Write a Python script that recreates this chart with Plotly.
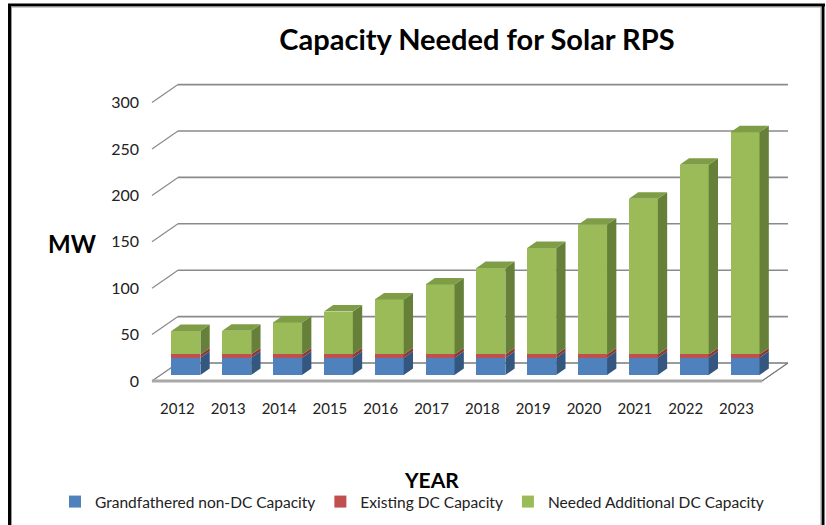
import plotly.graph_objects as go

# ---------------- data ----------------
years = ["2012", "2013", "2014", "2015", "2016", "2017",
         "2018", "2019", "2020", "2021", "2022", "2023"]
grandfathered = [18.6] * 12
existing_dc = [3.6] * 12
needed_dc = [25.1, 25.4, 34.5, 46.2, 59.2, 75.4, 93.2, 114.7, 139.8, 167.8, 204.3, 239.4]
y_ticks = [0, 50, 100, 150, 200, 250, 300]

series = [
    ("Grandfathered non-DC Capacity", grandfathered, "#4F81BD", "#34577F", "#5E8CC4"),
    ("Existing DC Capacity", existing_dc, "#C0504D", "#8C3836", "#C86461"),
    ("Needed Additional DC Capacity", needed_dc, "#9BBB59", "#66803A", "#7E9D46"),
]

# ---------------- geometry (pixels -> axis units) ----------------
W, H = 826, 525
L, R, T, B = 140, 26, 60, 127
PX_X = 50.83          # px per category
PX_Y = 0.928          # px per MW
X0_PX = 177.4         # px of category 0 (front plane)
Y0_PX = 381.0         # px of 0 MW (front plane)

x_range = [(L - X0_PX) / PX_X, (W - R - X0_PX) / PX_X]
y_range = [(Y0_PX - (H - B)) / PX_Y, (Y0_PX - T) / PX_Y]

wall_dx, wall_dy = 26 / PX_X, 18 / PX_Y          # depth of the whole box
face_dx, face_dy = 8.5 / PX_X, 6 / PX_Y          # bar front face set back
bar_dx, bar_dy = 9.3 / PX_X, 6.5 / PX_Y          # bar depth
bar_w = 29 / PX_X

n = len(years)
fig = go.Figure()

# stacked bars (front faces), side faces and top faces
base = [0.0] * n
for name, vals, c_front, c_side, c_top in series:
    xs = [i + face_dx for i in range(n)]
    fig.add_trace(go.Bar(
        x=xs, y=vals, base=[b + face_dy for b in base], width=bar_w,
        name=name, marker=dict(color=c_front, line=dict(width=0)),
        showlegend=True,
    ))
    sx, sy = [], []
    for i in range(n):
        xr = i + face_dx + bar_w / 2
        b0 = base[i] + face_dy
        b1 = base[i] + vals[i] + face_dy
        sx += [xr, xr + bar_dx, xr + bar_dx, xr, xr, None]
        sy += [b0, b0 + bar_dy, b1 + bar_dy, b1, b0, None]
    fig.add_trace(go.Scatter(x=sx, y=sy, mode="lines", fill="toself",
                             fillcolor=c_side, line=dict(width=0, color=c_side),
                             showlegend=False, hoverinfo="skip"))
    base = [base[i] + vals[i] for i in range(n)]

# top faces of the stack
tx, ty = [], []
for i in range(n):
    xl = i + face_dx - bar_w / 2
    xr = i + face_dx + bar_w / 2
    t = base[i] + face_dy
    tx += [xl, xr, xr + bar_dx, xl + bar_dx, xl, None]
    ty += [t, t, t + bar_dy, t + bar_dy, t, None]
fig.add_trace(go.Scatter(x=tx, y=ty, mode="lines", fill="toself",
                         fillcolor=series[2][4], line=dict(width=0, color=series[2][4]),
                         showlegend=False, hoverinfo="skip"))

# ---------------- walls, gridlines, floor ----------------
shapes = []
xa, xb = -0.5, n - 0.5
grid_col = "#8A8A8A"
# floor
shapes.append(dict(type="path", xref="x", yref="y", layer="below",
                   path=f"M{xa},0 L{xb},0 L{xb + wall_dx},{wall_dy} L{xa + wall_dx},{wall_dy} Z",
                   fillcolor="white", line=dict(color="#9A9A9A", width=1)))
for v in y_ticks:
    shapes.append(dict(type="line", xref="x", yref="y", layer="below",
                       x0=xa + wall_dx, y0=v + wall_dy, x1=xb + wall_dx, y1=v + wall_dy,
                       line=dict(color=grid_col, width=1.6)))
    shapes.append(dict(type="line", xref="x", yref="y", layer="below",
                       x0=xa, y0=v, x1=xa + wall_dx, y1=v + wall_dy,
                       line=dict(color=grid_col, width=1.2)))
# floor front edge (thickness)
shapes.append(dict(type="line", xref="x", yref="y", layer="below",
                   x0=xa, y0=0, x1=xb, y1=0, line=dict(color="#A8A8A8", width=3)))
shapes.append(dict(type="line", xref="x", yref="y", layer="below",
                   x0=xb, y0=0, x1=xb + wall_dx, y1=wall_dy, line=dict(color="#7A7A7A", width=1.2)))

# ---------------- outer frame (paper coords) ----------------
pw, ph = W - L - R, H - T - B
def fx(px):
    return (px - L) / pw
def fy(py):
    return (H - B - py) / ph

shapes += [
    dict(type="line", xref="paper", yref="paper", x0=fx(9.5), y0=fy(5), x1=fx(9.5), y1=fy(530),
         line=dict(color="black", width=3)),
    dict(type="line", xref="paper", yref="paper", x0=fx(8), y0=fy(5), x1=fx(825), y1=fy(5),
         line=dict(color="black", width=3)),
    dict(type="line", xref="paper", yref="paper", x0=fx(823), y0=fy(5), x1=fx(823), y1=fy(530),
         line=dict(color="black", width=3)),
    dict(type="line", xref="paper", yref="paper", x0=fx(11.5), y0=fy(6.5), x1=fx(11.5), y1=fy(530),
         line=dict(color="#9A9A9A", width=1)),
    dict(type="line", xref="paper", yref="paper", x0=fx(11), y0=fy(7), x1=fx(821), y1=fy(7),
         line=dict(color="#9A9A9A", width=1)),
    dict(type="line", xref="paper", yref="paper", x0=fx(821), y0=fy(6.5), x1=fx(821), y1=fy(530),
         line=dict(color="#9A9A9A", width=1)),
]

FONT = "Lato, 'Open Sans', sans-serif"
annotations = [
    dict(text="<b>MW</b>", xref="paper", yref="paper", x=fx(72), y=fy(243),
         xanchor="center", yanchor="middle", showarrow=False,
         font=dict(family=FONT, size=24, color="black")),
    dict(text="<b>YEAR</b>", xref="paper", yref="paper", x=fx(431), y=fy(479),
         xanchor="center", yanchor="middle", showarrow=False,
         font=dict(family=FONT, size=21, color="black")),
]

fig.update_layout(
    width=W, height=H, autosize=False,
    margin=dict(l=L, r=R, t=T, b=B, autoexpand=False),
    paper_bgcolor="white", plot_bgcolor="white",
    barmode="overlay", bargap=0,
    title=dict(text="<b>Capacity Needed for Solar RPS</b>", x=477 / W, xanchor="center",
               y=1 - 40 / H, yanchor="middle", yref="container",
               font=dict(family=FONT, size=29, color="black")),
    xaxis=dict(range=x_range, tickmode="array", tickvals=list(range(n)), ticktext=years,
               showgrid=False, zeroline=False, showline=False, ticks="",
               tickfont=dict(family=FONT, size=15, color="#222222"), fixedrange=True),
    yaxis=dict(range=y_range, tickmode="array", tickvals=y_ticks,
               ticktext=[str(v) for v in y_ticks],
               showgrid=False, zeroline=False, showline=False, ticks="",
               tickfont=dict(family=FONT, size=16, color="#222222"), fixedrange=True),
    legend=dict(orientation="h", x=fx(55), y=fy(502), xanchor="left", yanchor="middle",
                font=dict(family=FONT, size=15.5, color="#222222"), bgcolor="rgba(0,0,0,0)",
                itemclick=False, itemdoubleclick=False, traceorder="normal"),
    shapes=shapes,
    annotations=annotations,
    showlegend=True,
)

fig.write_html("out.html", config={"displayModeBar": False},
               post_script="document.body.style.margin='0';")
